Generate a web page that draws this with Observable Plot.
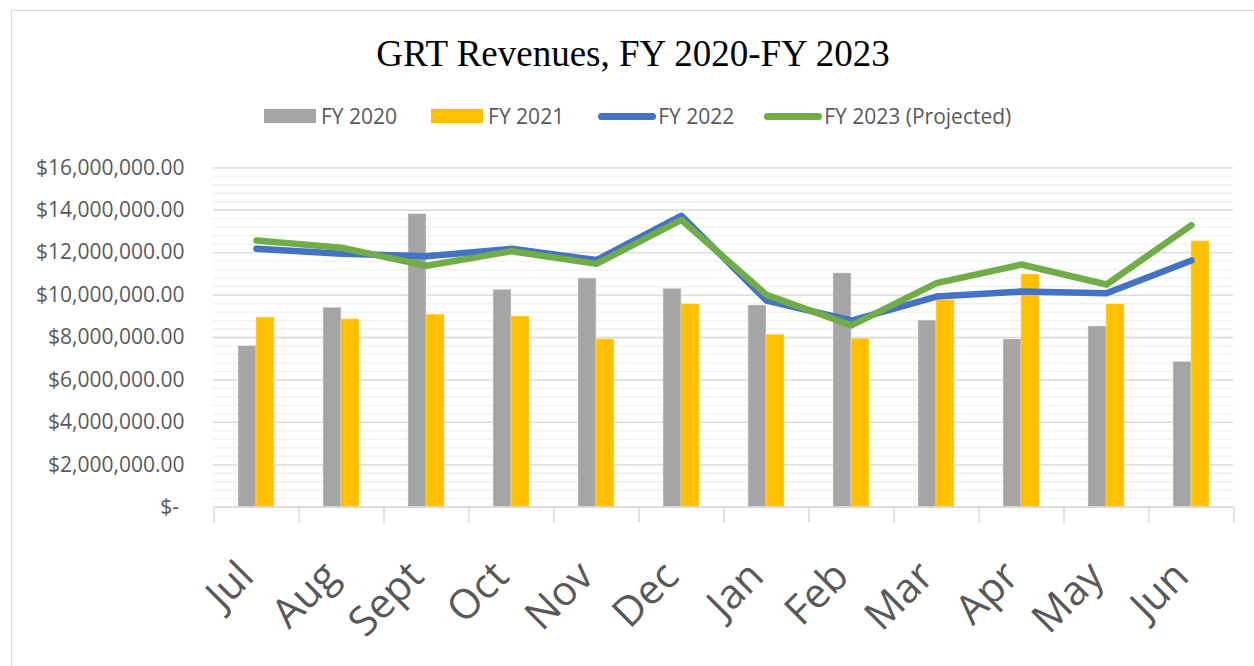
<!DOCTYPE html>
<html>
<head>
<meta charset="utf-8">
<script src="https://cdn.jsdelivr.net/npm/d3@7"></script>
<script src="https://cdn.jsdelivr.net/npm/@observablehq/plot@0.6"></script>
<style>
  html, body { margin: 0; padding: 0; background: #fff; width: 1254px; height: 666px; overflow: hidden; }
  #frame { position: absolute; left: 11px; top: 10px; width: 1300px; height: 700px; border: 1px solid #d9d9d9; box-sizing: border-box; }
  #title { position: absolute; left: 0; width: 1266px; top: 32px; text-align: center; font-family: "Liberation Serif", "Times New Roman", serif; font-size: 37px; color: #000; white-space: nowrap; }
  #legend { position: absolute; left: 264px; top: 102px; height: 28px; display: flex; align-items: center; font-family: "Open Sans", sans-serif; font-size: 21px; color: #595959; white-space: nowrap; }
  .item { display: flex; align-items: center; margin-right: 34px; }
  .item.i2 { margin-right: 30px; }
  .sw { width: 52px; height: 14px; margin-right: 5px; }
  .ln { width: 58px; height: 7px; border-radius: 4px; margin-right: 2px; }
  #chart { position: absolute; left: 0; top: 150px; }
</style>
</head>
<body>
<div id="frame"></div>
<div id="title">GRT Revenues, FY 2020-FY 2023</div>
<div id="legend"></div>
<div id="chart"></div>
<script>
const months = ["Jul","Aug","Sept","Oct","Nov","Dec","Jan","Feb","Mar","Apr","May","Jun"];
const fy2020 = [7590000, 9400000, 13810000, 10250000, 10780000, 10300000, 9510000, 11020000, 8800000, 7910000, 8520000, 6850000];
const fy2021 = [8940000, 8850000, 9080000, 8990000, 7910000, 9560000, 8130000, 7940000, 9750000, 10970000, 9560000, 12530000];
const fy2022 = [12180000, 11950000, 11830000, 12180000, 11650000, 13740000, 9740000, 8800000, 9930000, 10170000, 10090000, 11630000];
const fy2023 = [12570000, 12230000, 11380000, 12070000, 11470000, 13540000, 10010000, 8570000, 10560000, 11440000, 10500000, 13300000];
const yTicks = [0, 2000000, 4000000, 6000000, 8000000, 10000000, 12000000, 14000000, 16000000];
const minorTicks = d3.range(0, 16000001, 400000);
const seriesNames = ["FY 2020", "FY 2021", "FY 2022", "FY 2023 (Projected)"];
const seriesColors = ["#a5a5a5", "#ffc000", "#4472c4", "#70ad47"];

// legend
const legend = document.getElementById("legend");
seriesNames.forEach((name, i) => {
  const it = document.createElement("div");
  it.className = "item i" + i;
  const sw = document.createElement("div");
  sw.className = i < 2 ? "sw" : "ln";
  sw.style.background = seriesColors[i];
  const tx = document.createElement("span");
  tx.textContent = name;
  it.appendChild(sw); it.appendChild(tx);
  legend.appendChild(it);
});

const rows = months.map((m, i) => ({month: m, a: fy2020[i], b: fy2021[i], c: fy2022[i], d: fy2023[i]}));

const width = 1254, height = 516;
const marginLeft = 213, marginRight = 21, marginTop = 17.3, marginBottom = 159.3;
const step = (width - marginLeft - marginRight) / months.length;
const bw = 36;
const pad = 1 - bw / step;

const fmt = d3.format(",.2f");
const chart = Plot.plot({
  width, height, marginLeft, marginRight, marginTop, marginBottom,
  style: {fontFamily: "'Open Sans', sans-serif", color: "#595959", background: "transparent"},
  x: {domain: months, paddingInner: pad, paddingOuter: pad / 2, align: 0.5, label: null},
  y: {domain: [0, 16000000], label: null},
  marks: [
    Plot.ruleY(minorTicks, {stroke: "#f0f0f0", strokeWidth: 1.3}),
    Plot.ruleY(yTicks, {stroke: "#d9d9d9", strokeWidth: 1.3}),
    Plot.barY(rows, {x: "month", y: "a", fill: seriesColors[0], insetRight: bw / 2, stroke: "#e8e8e8", strokeWidth: 0.5}),
    Plot.barY(rows, {x: "month", y: "b", fill: seriesColors[1], insetLeft: bw / 2, stroke: "#ffe08a", strokeWidth: 0.5}),
    Plot.ruleY([0], {stroke: "#d9d9d9", strokeWidth: 1.5}),
    Plot.ruleX(months, {x: d => d, y1: 0, y2: 0, dx: -step / 2, insetBottom: -16, stroke: "#d9d9d9", strokeWidth: 1.5}),
    Plot.ruleX(months.slice(-1), {x: d => d, y1: 0, y2: 0, dx: step / 2, insetBottom: -16, stroke: "#d9d9d9", strokeWidth: 1.5}),
    Plot.lineY(rows, {x: "month", y: "c", stroke: seriesColors[2], strokeWidth: 6.5, strokeLinecap: "round", strokeLinejoin: "round"}),
    Plot.lineY(rows, {x: "month", y: "d", stroke: seriesColors[3], strokeWidth: 6.5, strokeLinecap: "round", strokeLinejoin: "round"}),
    Plot.axisY({ticks: yTicks, tickSize: 0, tickPadding: 29, fontSize: 21, tickFormat: d => d === 0 ? "$-\u00a0" : "$" + fmt(d), label: null}),
    Plot.axisX({tickSize: 0, tickPadding: 50, tickRotate: -45, fontSize: 41, dx: -10, dy: 12, label: null})
  ]
});
document.getElementById("chart").appendChild(chart);
</script>
</body>
</html>
